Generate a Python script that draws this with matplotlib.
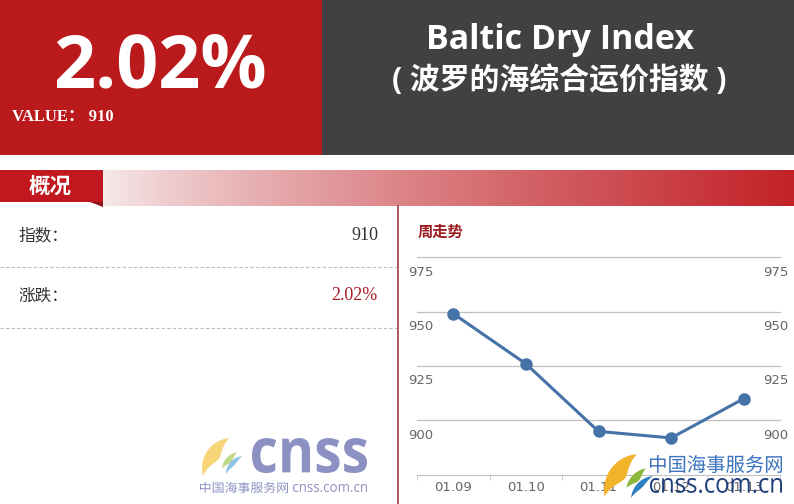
import numpy as np
import matplotlib
matplotlib.use('Agg')
import matplotlib.pyplot as plt
from matplotlib.patches import Rectangle, Polygon, PathPatch
from matplotlib.textpath import TextPath
from matplotlib.font_manager import FontProperties
from matplotlib.transforms import Affine2D, ScaledTranslation, blended_transform_factory

# data
dates = ['01.09', '01.10', '01.11', '01.12', '01.13']
bdi = [949, 926, 895, 892, 910]
yticks = [975, 950, 925, 900]
index_value = 910
change_pct = 2.02

W, H = 794, 504
RED = '#bb1a1d'
DARK = '#414141'
GREY = '#666666'

fig = plt.figure(figsize=(W / 100, H / 100), dpi=100)
bg = fig.add_axes([0, 0, 1, 1])
bg.axis('off')


def crescent(axis, cx, cy, r, a0, a1, w, color, alpha=1.0):
    # tapered arc, y axis points down
    th = np.radians(np.linspace(a0, a1, 60))
    taper = np.sin(np.linspace(0, np.pi, 60))
    outer = np.c_[cx + r * np.cos(th), cy - r * np.sin(th)]
    rr = r - w * taper
    inner = np.c_[cx + rr * np.cos(th), cy - rr * np.sin(th)]
    axis.add_patch(Polygon(np.vstack([outer, inner[::-1]]), closed=True,
                           fc=color, ec='none', alpha=alpha, zorder=5))


def fit_text(axis, s, x0, y0, x1, y1, color, prop, alpha=1.0):
    # squeeze a text path into a pixel box
    tp = TextPath((0, 0), s, size=10, prop=prop)
    ext = tp.get_extents()
    sx = (x1 - x0) / ext.width
    sy = (y1 - y0) / ext.height
    tr = Affine2D().translate(-ext.x0, -ext.y1).scale(sx, -sy).translate(x0, y0)
    axis.add_patch(PathPatch(tr.transform_path(tp), fc=color, ec='none',
                             alpha=alpha, zorder=6))


# header blocks
bg.add_patch(Rectangle((0, 0), 322, 155, color=RED, lw=0))
bg.add_patch(Rectangle((322, 0), W - 322, 155, color=DARK, lw=0))

bg.text(160, 88, f'{change_pct:.2f}%', color='white', fontsize=53,
        fontweight='bold', family='Open Sans', ha='center', va='baseline')
bg.text(12, 121, f'VALUE： {index_value}', color='white', fontsize=12,
        fontweight='bold', family=['Liberation Serif', 'Noto Sans CJK SC'],
        ha='left', va='baseline')
bg.text(560, 49, 'Baltic Dry Index', color='white', fontsize=24.5,
        fontweight='bold', family='Open Sans', ha='center', va='baseline')
bg.text(559, 81, '( 波罗的海综合运价指数 )', color='white', fontsize=21.5,
        fontweight='bold', family=['Open Sans', 'Noto Sans CJK SC'],
        ha='center', va='center')

# section bar with gradient
t = np.linspace(0, 1, 256) ** 0.8
c0 = np.array([247, 236, 237]) / 255
c1 = np.array([194, 34, 40]) / 255
grad = (c0[None, :] * (1 - t[:, None]) + c1[None, :] * t[:, None])[None, :, :]
bg.imshow(grad, extent=[100, W, 206, 170], aspect='auto',
          interpolation='bilinear', zorder=1)
bg.add_patch(Rectangle((0, 170), 103, 32, color='#c0181e', lw=0, zorder=2))
bg.add_patch(Polygon([[90, 202], [103, 202], [103, 207]], closed=True,
                     color='#8e1216', lw=0, zorder=2))
bg.text(50, 186, '概况', color='white', fontsize=15.5, fontweight='bold',
        family='Noto Sans CJK SC', ha='center', va='center', zorder=3)

# left summary panel
bg.text(18, 236, '指数：', color='#333333', fontsize=12,
        family='Noto Sans CJK SC', va='center')
bg.text(378, 236, str(index_value), color='#333333', fontsize=13,
        family='Liberation Serif', ha='right', va='center')
bg.text(18, 296, '涨跌：', color='#333333', fontsize=12,
        family='Noto Sans CJK SC', va='center')
bg.text(378, 296, f'{change_pct:.2f}%', color='#a51c22', fontsize=13,
        family='Liberation Serif', ha='right', va='center')
for yy in [267, 328]:
    bg.plot([0, 398], [yy, yy], color='#bbbbbb', lw=0.8, ls=(0, (3, 2)))
bg.plot([398, 398], [206, 504], color='#a33a3d', lw=1.2)

bg.text(418, 232, '周走势', color='#9b1b20', fontsize=11, fontweight='bold',
        family='Noto Sans CJK SC', va='center')

# left logo (faded)
crescent(bg, 232, 468, 30, 95, 195, 14, '#f7d67a')
crescent(bg, 240, 470, 18, 100, 175, 6, '#bcd98a')
crescent(bg, 244, 474, 18, 95, 180, 5, '#8fc4ea')
fit_text(bg, 'cnss', 252, 438, 367, 473, '#8c91c3',
         FontProperties(family='Open Sans', weight='bold'))
fit_text(bg, '中国海事服务网', 200, 482, 288, 493, '#8c91c3',
         FontProperties(family='Noto Sans CJK SC'))
fit_text(bg, 'cnss.com.cn', 293, 484, 367, 492, '#8c91c3',
         FontProperties(family='Open Sans'))

bg.set_xlim(0, W)
bg.set_ylim(H, 0)

# weekly chart
ax = fig.add_axes([417 / W, 1 - 475 / H, 363 / W, 218 / H])
ax.set_facecolor('none')
x = np.arange(len(dates))
ax.plot(x, bdi, color='#4572a7', lw=2.2, marker='o', ms=8, zorder=3,
        clip_on=False)
ax.set_xlim(-0.5, len(dates) - 0.5)
ax.set_ylim(875, 975)
for v in yticks:
    ax.axhline(v, color='#c0c0c0', lw=0.9, zorder=1, clip_on=False)
for s in ['top', 'left', 'right']:
    ax.spines[s].set_visible(False)
ax.spines['bottom'].set_color('#c0c0c0')
ax.set_yticks([])
ax.set_xticks(x)
ax.set_xticklabels(dates)
ax.tick_params(axis='x', length=0, pad=4, labelsize=9.5, labelcolor=GREY)
ax.set_xticks(np.arange(len(dates) + 1) - 0.5, minor=True)
ax.tick_params(axis='x', which='minor', length=3.5, color='#c0c0c0')

off = ScaledTranslation(0, -15 / 100, fig.dpi_scale_trans)
tl = blended_transform_factory(ax.transAxes, ax.transData) + off
for v in yticks:
    ax.text((408 - 417) / 363, v, str(v), transform=tl, ha='left',
            va='center', fontsize=9.5, color=GREY)
    ax.text((788 - 417) / 363, v, str(v), transform=tl, ha='right',
            va='center', fontsize=9.5, color=GREY)

# watermark on top
wm = fig.add_axes([0, 0, 1, 1])
wm.axis('off')
wm.set_facecolor('none')
crescent(wm, 640, 490, 36, 95, 190, 17, '#f1b42a')
crescent(wm, 650, 492, 24, 100, 170, 8, '#8cb83c')
crescent(wm, 655, 500, 24, 95, 175, 6, '#2f7fc4')
fit_text(wm, '中国海事服务网', 650, 455, 782, 473, '#3a72bd',
         FontProperties(family='Noto Sans CJK SC'))
fit_text(wm, 'cnss.com.cn', 650, 478, 782, 493, '#1e3f7a',
         FontProperties(family='Open Sans'))
wm.set_xlim(0, W)
wm.set_ylim(H, 0)

fig.savefig('out.png', dpi=100)
